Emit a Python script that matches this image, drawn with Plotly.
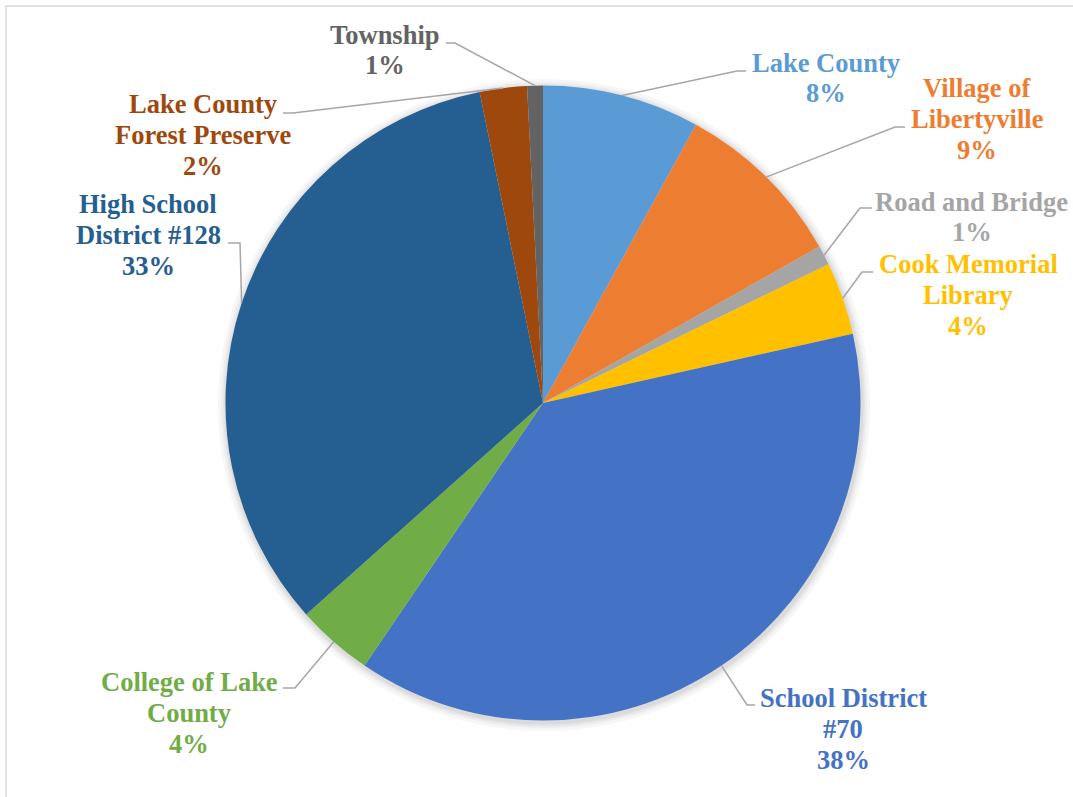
import math
import plotly.graph_objects as go

# ---- data ----
categories = ["Lake County", "Village of Libertyville", "Road and Bridge",
              "Cook Memorial Library", "School District #70",
              "College of Lake County", "High School District #128",
              "Lake County Forest Preserve", "Township"]
wrapped = [["Lake County"], ["Village of", "Libertyville"], ["Road and Bridge"],
           ["Cook Memorial", "Library"], ["School District", "#70"],
           ["College of Lake", "County"], ["High School", "District #128"],
           ["Lake County", "Forest Preserve"], ["Township"]]
shares = [8.0, 8.8, 1.0, 3.7, 38.0, 3.9, 33.4, 2.4, 0.8]
colors = ["#5B9BD5", "#ED7D31", "#A5A5A5", "#FFC000", "#4472C4",
          "#70AD47", "#255E91", "#9E480E", "#636363"]

# ---- layout (pixel positions) ----
W, H = 1073, 797
CX, CY, R = 543, 403, 317.5
LINE = 30.7
label_pos = [(826, 78), (977, 119), (972, 217), (968, 295), (843, 729),
             (189, 713), (148, 235), (203, 135), (385, 50)]
elbows = [((737, 71), (746, 71)), ((895, 127), (905, 127)),
          ((860, 208), (872, 208)), ((862, 272), (873, 272)),
          ((747, 705), (755, 705)), ((295, 688), (283, 688)),
          ((240, 243), (228, 243)), ((293, 113), (283, 113)),
          ((455, 43), (446, 43))]


def px(x):
    return x / W


def py(y):
    return 1 - y / H


fig = go.Figure()
fig.add_trace(go.Pie(
    labels=categories, values=shares, sort=False, direction="clockwise",
    rotation=0, textinfo="none", hoverinfo="label+percent",
    marker=dict(colors=colors, line=dict(width=0)),
    domain=dict(x=[px(CX - R), px(CX + R)], y=[py(CY + R), py(CY - R)]),
    showlegend=False,
))

shapes = []
# soft shadow
for rr in [326, 323, 321, 319.5]:
    shapes.append(dict(type="circle", xref="paper", yref="paper", layer="below",
                       x0=px(CX + 1 - rr), x1=px(CX + 1 + rr),
                       y0=py(CY + 2 + rr), y1=py(CY + 2 - rr),
                       fillcolor="rgba(0,0,0,0.035)", line=dict(width=0)))
# border
shapes.append(dict(type="rect", xref="paper", yref="paper", layer="below",
                   x0=px(6), x1=px(W + 10), y0=py(H + 10), y1=py(6),
                   line=dict(color="#D9D9D9", width=1.5), fillcolor="rgba(0,0,0,0)"))

total = sum(shares)
cum = 0.0
annotations = []
for i, v in enumerate(shares):
    mid = (cum + v / 2) / total * 2 * math.pi
    cum += v
    sx = CX + R * math.sin(mid)
    sy = CY - R * math.cos(mid)
    (ex, ey), (tx, ty) = elbows[i]
    path = f"M {px(sx)} {py(sy)} L {px(ex)} {py(ey)} L {px(tx)} {py(ty)}"
    shapes.append(dict(type="path", xref="paper", yref="paper", path=path,
                       line=dict(color="#A6A6A6", width=1.5)))
    pct = round(v / total * 100)
    lines = wrapped[i] + [f"{pct}%"]
    lx, ly = label_pos[i]
    n = len(lines)
    for k, t in enumerate(lines):
        yy = ly + (k - (n - 1) / 2) * LINE
        annotations.append(dict(
            x=px(lx), y=py(yy), xref="paper", yref="paper",
            xanchor="center", yanchor="middle", align="center", showarrow=False,
            text=f"<b>{t}</b>",
            font=dict(family="Liberation Serif", size=26.5, color=colors[i]),
        ))

fig.update_layout(
    width=W, height=H, margin=dict(l=0, r=0, t=0, b=0),
    paper_bgcolor="white", plot_bgcolor="white",
    shapes=shapes, annotations=annotations,
)
fig.write_html("out.html", config={"displayModeBar": False},
               post_script="document.body.style.margin='0';document.body.style.overflow='hidden';")
